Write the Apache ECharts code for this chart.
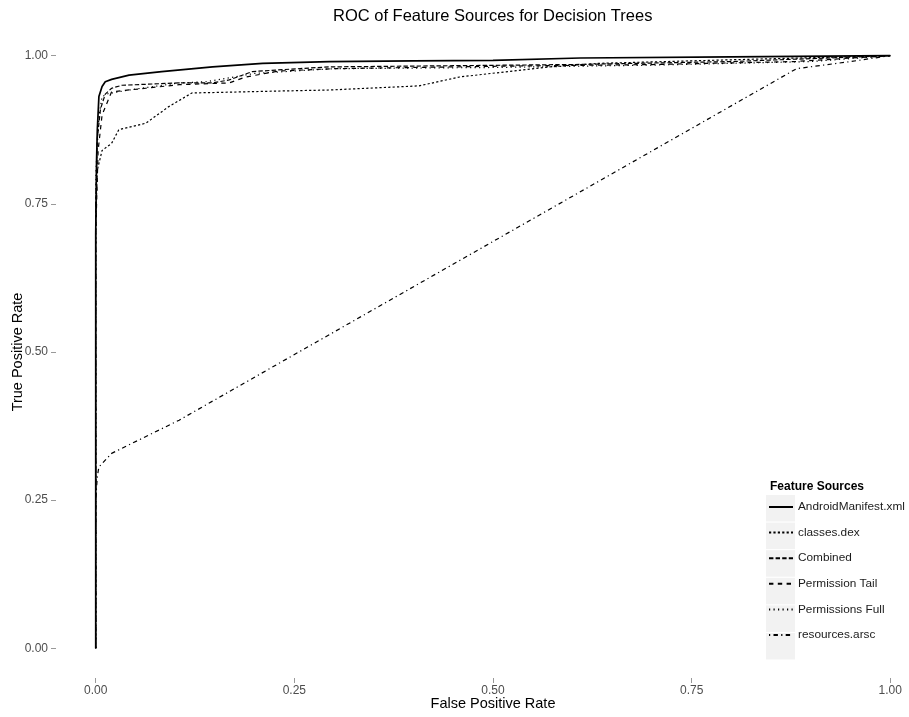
<!DOCTYPE html>
<html style="height: 100%">
<head>
    <meta charset="utf-8">
    <script src="https://cdn.jsdelivr.net/npm/echarts@6/dist/echarts.min.js"></script>
</head>
<body style="height: 100%;margin: 0">
<div id="chart1" style="width: 909px; height: 717px;"></div>
<script type="text/javascript">
// 轴刻度
var xTicks = [0, 0.25, 0.5, 0.75, 1];
var yTicks = [0, 0.25, 0.5, 0.75, 1];

// 各特征来源的ROC曲线 (fpr / tpr)
var seriesNames = ['AndroidManifest.xml', 'classes.dex', 'Combined', 'Permission Tail', 'Permissions Full', 'resources.arsc'];

var manifestFpr = [0, 0, 0.001, 0.002, 0.004, 0.008, 0.012, 0.02, 0.042, 0.083, 0.147, 0.21, 0.294, 0.4, 0.5, 0.61, 0.8, 1];
var manifestTpr = [0, 0.70, 0.82, 0.875, 0.931, 0.948, 0.956, 0.96, 0.967, 0.973, 0.981, 0.987, 0.99, 0.991, 0.992, 0.996, 0.998, 1];

var classesFpr = [0, 0, 0.002, 0.008, 0.02, 0.029, 0.063, 0.092, 0.121, 0.256, 0.294, 0.407, 0.458, 0.571, 0.634, 0.8, 1];
var classesTpr = [0, 0.72, 0.807, 0.84, 0.852, 0.875, 0.886, 0.914, 0.937, 0.941, 0.942, 0.949, 0.964, 0.981, 0.987, 0.993, 1];

var combinedFpr = [0, 0, 0.002, 0.006, 0.012, 0.02, 0.033, 0.105, 0.147, 0.168, 0.197, 0.23, 0.294, 0.45, 0.6, 0.8, 1];
var combinedTpr = [0, 0.75, 0.86, 0.91, 0.935, 0.945, 0.95, 0.954, 0.954, 0.959, 0.973, 0.976, 0.981, 0.983, 0.985, 0.99, 1];

var tailFpr = [0, 0, 0.003, 0.008, 0.02, 0.063, 0.105, 0.168, 0.189, 0.23, 0.3, 0.5, 0.7, 0.88, 1];
var tailTpr = [0, 0.7, 0.84, 0.9, 0.939, 0.945, 0.951, 0.954, 0.964, 0.974, 0.978, 0.982, 0.985, 0.99, 1];

var fullFpr = [0, 0, 0.004, 0.008, 0.016, 0.042, 0.105, 0.139, 0.2, 0.3, 0.5, 0.7, 0.9, 1];
var fullTpr = [0, 0.8, 0.897, 0.931, 0.936, 0.942, 0.954, 0.956, 0.97, 0.978, 0.98, 0.984, 0.99, 1];

var resourcesFpr = [0, 0, 0.002, 0.004, 0.02, 0.105, 0.882, 0.95, 1];
var resourcesTpr = [0, 0.25, 0.29, 0.306, 0.329, 0.385, 0.978, 0.99, 1];

function zip(xs, ys) {
    return xs.map(function (x, i) { return [x, ys[i]]; });
}

var curves = [
    {name: seriesNames[5], data: zip(resourcesFpr, resourcesTpr), dash: [1.2, 3.3, 4.4, 3.3], width: 1.2},
    {name: seriesNames[4], data: zip(fullFpr, fullTpr), dash: [1.2, 3.3], width: 1.2},
    {name: seriesNames[3], data: zip(tailFpr, tailTpr), dash: [4.4, 4.4], width: 1.2},
    {name: seriesNames[2], data: zip(combinedFpr, combinedTpr), dash: [4.4, 2.2], width: 1.2},
    {name: seriesNames[1], data: zip(classesFpr, classesTpr), dash: [2.2, 2.2], width: 1.2},
    {name: seriesNames[0], data: zip(manifestFpr, manifestTpr), dash: 'solid', width: 1.7}
];

var font = 'Liberation Sans, Arial, sans-serif';
var fmt = function (v) { return v.toFixed(2); };

// 图例键的灰色背景
var keyBoxes = seriesNames.map(function (n, i) {
    return {
        type: 'rect', left: 766, top: 495 + i * 27.6,
        shape: {width: 29, height: 26.5},
        style: {fill: '#f2f2f2'}, z: -1
    };
});

var myChart = echarts.init(document.getElementById('chart1'));
var option = {
    backgroundColor: '#ffffff',
    animation: false,
    textStyle: {fontFamily: font},
    title: [
        {
            text: 'ROC of Feature Sources for Decision Trees',
            left: 328, top: 3,
            textStyle: {fontSize: 16.5, fontWeight: 'normal', color: '#000', fontFamily: font}
        },
        {
            text: 'Feature Sources',
            left: 765, top: 476,
            textStyle: {fontSize: 12, fontWeight: 'bold', color: '#000', fontFamily: font}
        }
    ],
    graphic: keyBoxes,
    legend: {
        orient: 'vertical',
        left: 768, top: 501,
        itemWidth: 24, itemHeight: 14, itemGap: 13.6,
        data: seriesNames,
        itemStyle: {opacity: 0},
        textStyle: {fontSize: 11.8, color: '#1a1a1a', fontFamily: font},
        padding: 0
    },
    // 面板按ggplot方式两端各扩展5%
    grid: {left: 56, top: 26, width: 874, height: 652, outerBoundsMode: 'none'},
    xAxis: {
        type: 'value', min: -0.05, max: 1.05,
        name: 'False Positive Rate', nameLocation: 'middle', nameGap: 18, nameMoveOverlap: false,
        nameTextStyle: {fontSize: 14.5, color: '#000', fontFamily: font},
        axisLine: {show: false, onZero: false},
        axisTick: {show: true, length: 5, customValues: xTicks, lineStyle: {color: '#999'}},
        axisLabel: {margin: 7, fontSize: 12, color: '#4d4d4d', customValues: xTicks, formatter: fmt},
        splitLine: {show: false}
    },
    yAxis: {
        type: 'value', min: -0.05, max: 1.05,
        name: 'True Positive Rate', nameLocation: 'middle', nameGap: 31, nameRotate: 90, nameMoveOverlap: false,
        nameTextStyle: {fontSize: 14.5, color: '#000', fontFamily: font},
        axisLine: {show: false, onZero: false},
        axisTick: {show: true, length: 5, customValues: yTicks, lineStyle: {color: '#999'}},
        axisLabel: {margin: 8, fontSize: 12, color: '#4d4d4d', customValues: yTicks, formatter: fmt},
        splitLine: {show: false}
    },
    series: curves.map(function (c) {
        return {
            name: c.name,
            type: 'line',
            data: c.data,
            showSymbol: false,
            symbol: 'none',
            clip: false,
            lineStyle: {color: '#000', width: c.width, type: c.dash},
            itemStyle: {color: '#000'}
        };
    })
};
myChart.setOption(option);
</script>
</body>
</html>
